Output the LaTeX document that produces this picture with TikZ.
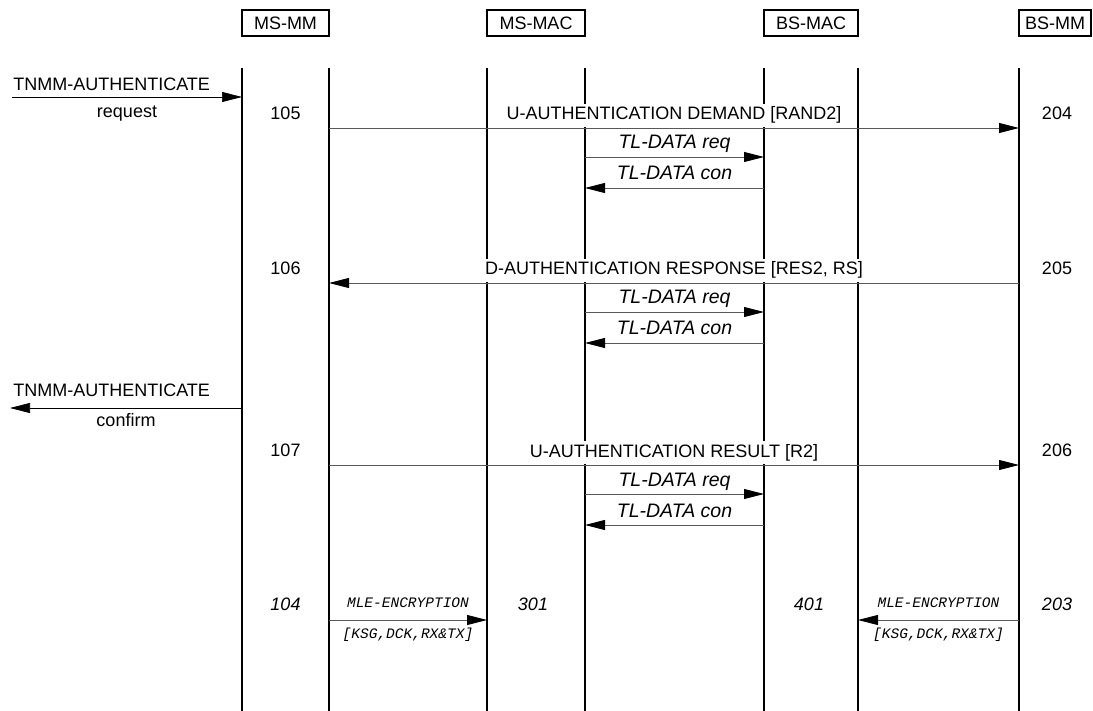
\documentclass[tikz,border=0pt]{standalone}
\usepackage{fontspec}
\setmainfont{Liberation Sans}
\setmonofont{Liberation Mono}
\usetikzlibrary{arrows.meta}
\definecolor{cmsg}{gray}{0.35}

\begin{document}
\begin{tikzpicture}[x=1pt, y=-1pt,
    ent/.style={draw, line width=1.6pt, minimum height=26pt, inner sep=0pt,
                font=\fontsize{18}{20}\selectfont},
    vie/.style={line width=1.8pt},
    msg/.style={draw=cmsg, line width=0.9pt,
                -{Triangle[length=20pt, width=10pt, color=black]}},
    ext/.style={msg, draw=black, line width=0.7pt},
    lab/.style={font=\fontsize{18}{20}\selectfont, inner sep=0pt},
    msglab/.style={lab, fill=white, inner xsep=2pt, inner ysep=3pt,
                anchor=base, yshift=8pt},
    num/.style={lab},
    tl/.style={font=\fontsize{19.5}{21}\selectfont\itshape, inner sep=0pt,
               anchor=base, yshift=8pt},
    mle/.style={font=\fontsize{14.5}{16}\selectfont\ttfamily\itshape, inner sep=0pt}]

  \useasboundingbox (0,0) rectangle (1093,711);

  \node[ent, minimum width=87pt] (msmm) at (285.5,23) {MS-MM};
  \node[ent, minimum width=98pt] (msmac) at (536,23) {MS-MAC};
  \node[ent, minimum width=94pt] (bsmac) at (811,23) {BS-MAC};
  \node[ent, minimum width=72pt] (bsmm) at (1055,23) {BS-MM};

  \coordinate (a1) at (242,68);
  \coordinate (a2) at (329,68);
  \coordinate (b1) at (487,68);
  \coordinate (b2) at (585,68);
  \coordinate (c1) at (764,68);
  \coordinate (c2) at (858,68);
  \coordinate (d1) at (1019,68);
  \coordinate (bas) at (0,711);
  \foreach \l in {a1,a2,b1,b2,c1,c2,d1}
    \draw[vie] (\l) -- (\l |- bas);

  \coordinate (r1) at (0,128);
  \coordinate (r2) at (0,283);
  \coordinate (r3) at (0,465);
  \coordinate (r4) at (0,620);
  \coordinate (ta1) at (0,157);
  \coordinate (tb1) at (0,188);
  \coordinate (ta2) at (0,312);
  \coordinate (tb2) at (0,343);
  \coordinate (ta3) at (0,494);
  \coordinate (tb3) at (0,525);
  \coordinate (x1) at (12,97);
  \coordinate (x2) at (10,408);

  \draw[ext] (x1) -- (a1 |- x1)
    node[lab, pos=0, anchor=base west, xshift=1pt, yshift=6pt] {TNMM-AUTHENTICATE}
    node[lab, pos=0.5, anchor=base, yshift=-21pt] {request};
  \draw[ext] (a1 |- x2) -- (x2)
    node[lab, pos=1, anchor=base west, xshift=3pt, yshift=11pt] {TNMM-AUTHENTICATE}
    node[lab, pos=0.5, anchor=base, yshift=-19pt] {confirm};

  \node[num] (n105) at (285.5,113) {105};
  \node[num] (n204) at (1057,113) {204};
  \node[num] (n106) at (285.5,268) {106};
  \node[num] (n205) at (1057,268) {205};
  \node[num] (n107) at (285.5,450) {107};
  \node[num] (n206) at (1057,450) {206};
  \node[num, font=\fontsize{18}{20}\selectfont\itshape] (n104) at (285.5,604) {104};
  \node[num, font=\fontsize{18}{20}\selectfont\itshape] (n301) at (533,604) {301};
  \node[num, font=\fontsize{18}{20}\selectfont\itshape] (n401) at (809,604) {401};
  \node[num, font=\fontsize{18}{20}\selectfont\itshape] (n203) at (1057,604) {203};

  \draw[msg] (a2 |- r1) -- node[msglab] {U-AUTHENTICATION DEMAND [RAND2]} (d1 |- r1);
  \draw[msg] (d1 |- r2) -- node[msglab] {D-AUTHENTICATION RESPONSE [RES2, RS]} (a2 |- r2);
  \draw[msg] (a2 |- r3) -- node[msglab] {U-AUTHENTICATION RESULT [R2]} (d1 |- r3);

  \foreach \r in {1,2,3} {
    \draw[msg] (b2 |- ta\r) -- node[tl] {TL-DATA req} (c1 |- ta\r);
    \draw[msg] (c1 |- tb\r) -- node[tl] {TL-DATA con} (b2 |- tb\r);
  }

  \draw[msg] (a2 |- r4) --
    node[mle, anchor=base, yshift=12.5pt] {MLE-ENCRYPTION}
    node[mle, anchor=base, yshift=-18.5pt] {[KSG,DCK,RX\&TX]} (b1 |- r4);
  \draw[msg] (d1 |- r4) --
    node[mle, anchor=base, yshift=12.5pt] {MLE-ENCRYPTION}
    node[mle, anchor=base, yshift=-18.5pt] {[KSG,DCK,RX\&TX]} (c2 |- r4);
\end{tikzpicture}
\end{document}
